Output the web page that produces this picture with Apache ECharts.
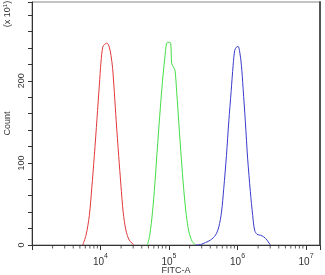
<!DOCTYPE html>
<html>
<head>
<meta charset="utf-8">
<script src="https://cdn.jsdelivr.net/npm/echarts@6/dist/echarts.min.js"></script>
<style>
html, body { margin: 0; padding: 0; background: #fff; }
#chart { width: 325px; height: 275px; }
</style>
</head>
<body>
<div id="chart"></div>
<script>
// FITC-A intensity (log axis) and event count
var redX = [5500, 6150, 6870, 7450, 8130, 8890, 9620, 10160, 10770, 11350, 12420, 13430, 14220, 15030, 15890, 16980, 18410, 19860, 21430, 23500, 26240, 30970];
var redY = [0, 12, 36, 69, 109, 154, 195, 223, 241, 244, 246, 241, 231, 215, 187, 150, 109, 73, 40, 18, 6, 0];

var greenX = [48530, 52360, 57380, 61970, 66930, 73320, 80220, 86640, 92650, 100000, 105880, 109420, 115800, 122190, 129380, 139730, 151400, 163550, 179100, 195400, 218800, 244300];
var greenY = [0, 12, 40, 73, 113, 158, 199, 227, 246, 247, 246, 221, 217, 213, 187, 146, 105, 69, 36, 16, 4, 0];

var blueX = [244300, 289000, 341700, 403400, 477500, 533300, 583700, 630100, 689800, 745100, 807000, 863000, 910500, 963600, 1020000, 1077000, 1140000, 1206000, 1302000, 1407000, 1540000, 1665000, 1779000, 1927000, 2153000, 2405000, 2694000, 3008000];
var blueY = [0, 0.5, 3, 6, 12, 22, 40, 69, 109, 150, 187, 219, 237, 241, 242, 235, 219, 191, 150, 105, 65, 36, 18, 13, 12, 10, 6, 0];

// small ticks between the decades
var minorTicks = [2000, 3000, 4000, 5000, 6000, 7000, 8000, 9000,
	20000, 30000, 40000, 50000, 60000, 70000, 80000, 90000,
	200000, 300000, 400000, 500000, 600000, 700000, 800000, 900000,
	2000000, 3000000, 4000000, 5000000, 6000000, 7000000, 8000000, 9000000];

var pairs = function(xs, ys) {
	var out = [];
	for (var i = 0; i < xs.length; i++) {
		out.push([xs[i], ys[i]]);
	}
	return out;
};

var curve = function(name, xs, ys, color) {
	return {
		name: name,
		type: 'line',
		data: pairs(xs, ys),
		showSymbol: false,
		smooth: 0.3,
		lineStyle: { color: color, width: 1 },
		itemStyle: { color: color },
		silent: true
	};
};

var font = 'Liberation Sans, Arial, sans-serif';

var myChart = echarts.init(document.getElementById('chart'), null, { renderer: 'canvas' });
var option = {
	animation: false,
	backgroundColor: '#fff',
	grid: {
		left: 32,
		right: 5,
		top: 2,
		bottom: 30,
		outerBoundsMode: 'none',
		containLabel: false,
		show: true,
		borderColor: '#888',
		borderWidth: 1
	},
	xAxis: {
		type: 'log',
		logBase: 10,
		min: 1000,
		max: 16000000,
		name: 'FITC-A',
		nameLocation: 'middle',
		nameGap: 21,
		nameMoveOverlap: false,
		nameTextStyle: { fontFamily: font, fontSize: 9, color: '#333' },
		axisLine: { lineStyle: { color: '#333', width: 1 } },
		axisTick: { length: 5, lineStyle: { color: '#333' } },
		splitLine: { show: false },
		axisLabel: {
			margin: 8,
			color: '#333',
			formatter: function(v) {
				var e = Math.round(Math.log(v) / Math.LN10);
				if (Math.abs(Math.log(v) / Math.LN10 - e) > 1e-6 || e < 4) {
					return '';
				}
				return '{b|10}{s|' + e + '}';
			},
			rich: {
				b: { fontFamily: font, fontSize: 10, color: '#333', verticalAlign: 'bottom', lineHeight: 14 },
				s: { fontFamily: font, fontSize: 7, color: '#333', verticalAlign: 'top', lineHeight: 14 }
			}
		}
	},
	yAxis: [{
		type: 'value',
		min: 0,
		max: 296,
		interval: 20,
		name: 'Count',
		nameLocation: 'middle',
		nameGap: 20,
		nameRotate: 90,
		nameMoveOverlap: false,
		nameTextStyle: { fontFamily: font, fontSize: 9, color: '#333' },
		axisLine: { show: true, lineStyle: { color: '#333', width: 1 } },
		axisTick: { show: true, length: 4, lineStyle: { color: '#333' } },
		splitLine: { show: false },
		axisLabel: {
			rotate: 90,
			margin: 6,
			fontFamily: font,
			fontSize: 9,
			color: '#333',
			formatter: function(v) {
				return v % 100 === 0 ? String(v) : '';
			}
		}
	}, {
		type: 'value',
		position: 'right',
		min: 0,
		max: 296,
		axisLine: { show: true, lineStyle: { color: '#555', width: 2 } },
		axisTick: { show: false },
		axisLabel: { show: false },
		splitLine: { show: false }
	}],
	graphic: [{
		type: 'text',
		x: 8,
		y: 14,
		rotation: Math.PI / 2,
		style: {
			text: '(x 10{s|1})',
			font: '9px ' + font,
			fill: '#333',
			align: 'center',
			verticalAlign: 'middle',
			rich: {
				s: { fontSize: 6, fill: '#333', verticalAlign: 'top', lineHeight: 12 }
			}
		}
	}],
	series: [
		curve('red', redX, redY, '#e0393c'),
		curve('green', greenX, greenY, '#44dd44'),
		curve('blue', blueX, blueY, '#3a3acc'),
		{
			type: 'scatter',
			data: minorTicks.map(function(v) { return [v, 0]; }),
			symbol: 'rect',
			symbolSize: [1, 3],
			symbolOffset: [0, 2],
			itemStyle: { color: '#333' },
			clip: false,
			silent: true,
			z: 5
		}
	]
};
myChart.setOption(option);
</script>
</body>
</html>
